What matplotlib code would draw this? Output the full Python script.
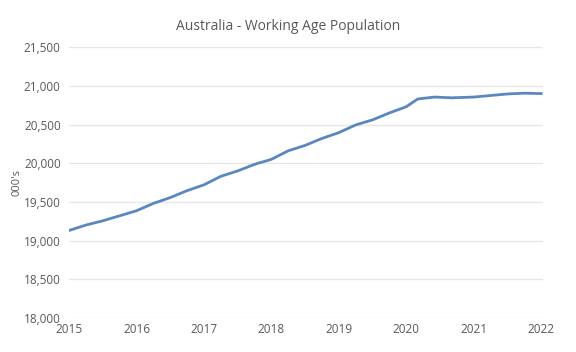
import matplotlib
matplotlib.use("Agg")
import matplotlib.pyplot as plt
from matplotlib.ticker import FuncFormatter

# quarterly working age population, 000's
years = [2015.00, 2015.25, 2015.50, 2015.75,
         2016.00, 2016.25, 2016.50, 2016.75,
         2017.00, 2017.25, 2017.50, 2017.75,
         2018.00, 2018.25, 2018.50, 2018.75,
         2019.00, 2019.25, 2019.50, 2019.75,
         2020.00, 2020.17, 2020.42, 2020.67,
         2021.00, 2021.25, 2021.50, 2021.75, 2022.00]
population = [19130, 19200, 19255, 19320,
              19385, 19480, 19555, 19645,
              19720, 19830, 19900, 19985,
              20050, 20160, 20230, 20320,
              20395, 20495, 20560, 20650,
              20730, 20830, 20855, 20845,
              20855, 20875, 20895, 20905, 20900]

yticks = [18000, 18500, 19000, 19500, 20000, 20500, 21000, 21500]
xticks = [2015, 2016, 2017, 2018, 2019, 2020, 2021, 2022]

plt.rcParams['font.family'] = ['Open Sans', 'DejaVu Sans']
grey = '#595959'

fig = plt.figure(figsize=(5.76, 3.52), dpi=100)
ax = fig.add_axes([0.12, 0.097, 0.823, 0.769])

ax.plot(years, population, color='#5B87C0', lw=2)

ax.set_ylim(18000, 21500)
ax.set_xlim(2015, 2022.03)
ax.set_yticks(yticks)
ax.set_xticks(xticks)
ax.yaxis.set_major_formatter(FuncFormatter(lambda v, p: '{:,.0f}'.format(v)))
ax.grid(axis='y', color='#e6e6e6', lw=0.9)
ax.set_axisbelow(True)
for s in ax.spines.values():
    s.set_visible(False)
ax.tick_params(length=0, labelsize=8.5, colors=grey, pad=6)
ax.tick_params(axis='x', pad=4)

ax.set_ylabel("000's", fontsize=8, color=grey)
ax.yaxis.set_label_coords(-0.098, 0.5)
fig.text(0.5, 0.915, 'Australia - Working Age Population', ha='center',
         fontsize=10, color=grey)

fig.savefig('out.png', dpi=100)
